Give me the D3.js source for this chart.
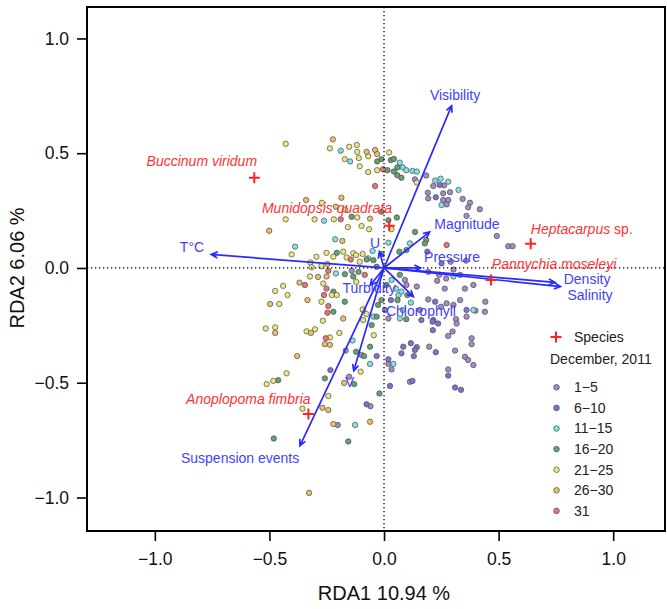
<!DOCTYPE html>
<html>
<head>
<meta charset="utf-8">
<script src="https://cdn.jsdelivr.net/npm/d3@7"></script>
<style>
body { margin: 0; background: #fff; }
text { font-family: "Liberation Sans", Arial, sans-serif; }
</style>
</head>
<body>
<svg id="chart" width="667" height="609"></svg>
<script>
// site scores by day group (RDA1, RDA2)
var days1_5 = [[0.135,0.386],[0.184,0.403],[0.215,0.357],[0.262,0.360],[0.191,0.328],[0.258,0.325],[0.288,0.330],
  [0.193,0.303],[0.258,0.296],[0.280,0.296],[0.273,0.277],[0.343,0.301],[0.375,0.284],[0.367,0.264],[0.418,0.256],
  [0.360,0.227],[0.492,0.139],[0.542,0.095],[0.561,0.095],[0.291,0.027],[0.358,0.032],[0.303,-0.007],[0.193,-0.017],
  [0.241,-0.030],[0.271,-0.046],[0.332,-0.030],[0.232,-0.056],[0.265,-0.090],[0.353,-0.090],[0.390,-0.074],
  [0.143,-0.081],[0.098,-0.074],[0.091,-0.052],[0.193,-0.137],[0.249,-0.169],[0.273,-0.154],[0.303,-0.161],
  [0.332,-0.140],[0.442,-0.147],[0.440,-0.191],[0.314,-0.223],[0.317,-0.242],[0.360,-0.212],[0.019,-0.220],
  [0.156,-0.183],[0.197,-0.343],[0.280,-0.296],[0.299,-0.277],[0.310,-0.360],[0.353,-0.387],[0.367,-0.401],
  [0.390,-0.423],[0.382,-0.306],[0.382,-0.332],[0.280,-0.442],[0.113,-0.496],[0.019,-0.418],[0.033,-0.442],
  [-0.167,-0.360],[-0.152,-0.474],[-0.098,-0.379],[-0.202,-0.684],[-0.059,-0.602],[-0.141,-0.012],[0.399,-0.186]]
var days6_10 = [[0.243,0.362],[0.226,0.308],[0.189,0.071],[0.251,0.020],[0.223,-0.147],[0.360,-0.183],[0.163,-0.227],
  [0.215,-0.227],[0.236,-0.242],[0.213,-0.271],[0.212,-0.234],[0.084,-0.343],[0.117,-0.328],[0.076,-0.372],
  [0.143,-0.345],[0.135,-0.357],[0.130,-0.384],[0.226,-0.367],[0.124,-0.492],[0.019,-0.398],[0.026,-0.514],
  [0.280,-0.469],[0.310,-0.521],[0.336,-0.531],[-0.032,-0.384],[0.004,-0.183],[0.030,-0.140],[-0.234,-0.445],
  [-0.076,-0.594],[-0.032,0.005]]
var days11_15 = [[-0.189,0.511],[-0.148,0.464],[0.069,0.459],[0.082,0.438],[0.097,0.426],[0.124,0.423],[0.143,0.420],
  [0.223,0.381],[0.247,0.389],[0.280,0.376],[0.325,0.340],[0.251,0.274],[-0.262,0.206],[-0.213,0.125],[-0.388,0.093],
  [0.019,0.110],[0.113,0.107],[-0.050,0.074],[-0.069,0.042],[-0.210,-0.024],[0.033,-0.052],[0.052,-0.090],
  [0.063,-0.118],[0.076,-0.103],[0.117,-0.151],[-0.091,-0.183],[0.069,-0.220],[0.082,-0.183],[0.303,-0.037],
  [0.390,-0.183],[-0.046,-0.212],[-0.137,-0.316],[-0.061,-0.418],[0.041,-0.418],[-0.126,-0.684]]
var days16_20 = [[-0.030,0.464],[-0.011,0.474],[0.030,0.470],[0.043,0.475],[0.058,0.438],[0.015,0.426],[0.043,0.420],
  [0.058,0.404],[0.076,0.393],[0.019,0.208],[0.056,0.220],[-0.011,0.245],[-0.141,0.223],[0.135,0.157],[0.184,0.122],
  [0.178,0.107],[0.067,0.071],[0.098,0.078],[-0.076,0.037],[-0.206,0.066],[-0.011,0.061],[-0.046,0.034],
  [-0.171,-0.027],[-0.111,-0.017],[-0.134,-0.037],[0.069,-0.030],[-0.221,-0.103],[-0.171,-0.147],[-0.221,-0.191],
  [-0.026,-0.161],[-0.032,-0.212],[-0.054,-0.249],[0.011,-0.074],[0.059,-0.140],[0.102,-0.118],[0.097,-0.223],
  [-0.011,-0.140],[-0.061,-0.343],[-0.087,-0.384],[-0.130,-0.506],[-0.020,-0.547],[-0.258,-0.481],[-0.462,-0.489],
  [-0.481,-0.743],[-0.156,-0.756],[-0.122,-0.365]]
var days21_25 = [[-0.429,0.541],[-0.236,0.521],[-0.152,0.528],[-0.119,0.536],[-0.117,0.506],[0.022,0.503],[-0.171,0.474],
  [-0.110,0.479],[-0.069,0.487],[-0.106,0.443],[-0.069,0.418],[-0.030,0.426],[0.143,0.372],[-0.271,0.284],[-0.169,0.254],
  [-0.429,0.212],[-0.303,0.212],[-0.219,0.212],[-0.117,0.220],[0.032,0.169],[-0.158,0.178],[-0.098,0.183],
  [-0.065,0.169],[-0.403,0.059],[-0.295,0.049],[-0.321,0.024],[-0.316,0.003],[-0.323,-0.037],[-0.251,0.066],
  [-0.221,0.049],[-0.178,0.071],[-0.163,0.046],[-0.134,0.064],[-0.093,0.061],[-0.122,0.056],[-0.106,0.027],
  [-0.273,0.008],[-0.265,-0.068],[-0.228,-0.118],[-0.206,-0.118],[-0.440,-0.078],[-0.475,-0.100],[-0.421,-0.118],
  [-0.457,-0.157],[-0.273,-0.147],[-0.267,-0.230],[-0.093,-0.181],[-0.076,-0.201],[-0.091,-0.227],[-0.121,-0.061],
  [-0.516,-0.264],[-0.475,-0.259],[-0.338,-0.276],[-0.301,-0.267],[-0.236,-0.303],[-0.195,-0.283],[-0.045,-0.293],
  [-0.102,-0.452],[-0.425,-0.459],[-0.483,-0.492],[-0.512,-0.506],[-0.243,-0.558],[-0.356,-0.613]]
var days26_30 = [[-0.223,0.560],[-0.076,0.506],[-0.039,0.514],[-0.030,0.496],[-0.186,0.306],[-0.340,0.296],[-0.210,0.267],
  [-0.061,0.215],[-0.501,0.162],[-0.182,0.118],[-0.369,-0.064],[-0.288,-0.039],[-0.251,-0.037],[-0.247,0.017],
  [-0.334,-0.140],[-0.497,-0.157],[-0.178,-0.220],[-0.475,-0.283],[-0.319,-0.283],[-0.258,-0.332],[-0.236,-0.335],
  [-0.379,-0.384],[-0.174,-0.501],[-0.269,-0.609],[-0.243,-0.619],[-0.221,-0.680],[-0.061,-0.670],[-0.327,-0.980]]
var days31 = [[-0.004,0.430],[-0.039,0.357],[-0.189,0.212],[0.273,0.100],[-0.243,-0.012],[-0.084,-0.030],[-0.345,-0.074],
  [-0.251,-0.090],[-0.262,-0.118],[-0.243,-0.166],[-0.247,-0.195],[-0.254,-0.306],[-0.145,0.037]]

var groupNames = ["1\u22125", "6\u221210", "11\u221215", "16\u221220", "21\u221225", "26\u221230", "31"]
var groupColors = ["#a48bc6", "#7e72d0", "#7fe3e6", "#66a173", "#ece77a", "#ebbf68", "#e87575"]
var groups = [days1_5, days6_10, days11_15, days16_20, days21_25, days26_30, days31]

// environmental vectors and their label anchors
var envNames = ["Visibility", "T\u00b0C", "Magnitude", "Pressure", "Density", "Salinity", "Chlorophyll", "U", "V", "Suspension events", "Turbidity"]
var envX = [0.295, -0.754, 0.199, 0.160, 0.746, 0.770, 0.128, -0.020, -0.132, -0.367, -0.060]
var envY = [0.707, 0.059, 0.157, 0.000, -0.063, -0.081, -0.125, 0.071, -0.448, -0.775, -0.075]
var envLabX = [0.310, -0.838, 0.362, 0.297, 0.886, 0.899, 0.161, -0.039, -0.150, -0.628, -0.065]
var envLabY = [0.754, 0.092, 0.190, 0.048, -0.047, -0.117, -0.186, 0.109, -0.499, -0.828, -0.087]

// species scores
var spNames = ["Buccinum viridum", "Munidopsis quadrata", "Heptacarpus", "Pannychia moseleyi", "Anoplopoma fimbria"]
var spX = [-0.566, 0.023, 0.640, 0.467, -0.330]
var spY = [0.393, 0.184, 0.105, -0.052, -0.636]
var spLabX = [-0.795, -0.249, 0.863, 0.742, -0.592]
var spLabY = [0.466, 0.263, 0.169, 0.019, -0.571]

var tickVals = [-1.0, -0.5, 0.0, 0.5, 1.0]

var svg = d3.select("#chart")
var mLeft = 87, mRight = 665, mTop = 7, mBottom = 531

var x = d3.scaleLinear().domain([-1.296, 1.226]).range([mLeft, mRight])
var y = d3.scaleLinear().domain([-1.146, 1.137]).range([mBottom, mTop])

var fmt = d3.format(".1f")

// axes
var xAxis = svg.append("g").attr("transform", "translate(0," + mBottom + ")")
  .call(d3.axisBottom(x).tickValues(tickVals).tickFormat(fmt).tickSize(10).tickPadding(12))
var yAxis = svg.append("g").attr("transform", "translate(" + mLeft + ",0)")
  .call(d3.axisLeft(y).tickValues(tickVals).tickFormat(fmt).tickSize(10).tickPadding(8))
;[xAxis, yAxis].forEach(function(a) {
  a.select(".domain").remove()
  a.selectAll("line").attr("stroke", "#000").attr("stroke-width", 1.6)
  a.selectAll("text").attr("font-size", 17.5).attr("fill", "#111")
    .attr("font-family", "Liberation Sans, Arial, sans-serif")
})

svg.append("rect").attr("x", mLeft).attr("y", mTop)
  .attr("width", mRight - mLeft).attr("height", mBottom - mTop)
  .attr("fill", "none").attr("stroke", "#000").attr("stroke-width", 2)

svg.append("text").attr("x", x(0)).attr("y", 600).attr("text-anchor", "middle")
  .attr("font-size", 20).attr("fill", "#111").text("RDA1 10.94 %")
svg.append("text").attr("transform", "translate(24," + y(0) + ") rotate(-90)")
  .attr("text-anchor", "middle").attr("font-size", 20).attr("fill", "#111").text("RDA2 6.06 %")

var plot = svg.append("g")

// points
groups.forEach(function(g, i) {
  plot.append("g").selectAll("circle").data(g).join("circle")
    .attr("cx", function(d) { return x(d[0]) })
    .attr("cy", function(d) { return y(d[1]) })
    .attr("r", 2.7)
    .attr("fill", groupColors[i])
    .attr("stroke", "#4a4a4a")
    .attr("stroke-width", 0.7)
})

// zero lines
plot.append("line").attr("x1", mLeft).attr("x2", mRight).attr("y1", y(0)).attr("y2", y(0))
  .attr("stroke", "#000").attr("stroke-width", 1.3).attr("stroke-dasharray", "1.3,2.7")
plot.append("line").attr("x1", x(0)).attr("x2", x(0)).attr("y1", mTop).attr("y2", mBottom)
  .attr("stroke", "#000").attr("stroke-width", 1.3).attr("stroke-dasharray", "1.3,2.7")

// env arrows
var blue = "#2a2aff"
envNames.forEach(function(name, i) {
  var x0 = x(0), y0 = y(0), x1 = x(envX[i]), y1 = y(envY[i])
  var ang = Math.atan2(y1 - y0, x1 - x0), hl = 7, ha = Math.PI / 7
  var p = "M" + x0 + "," + y0 + "L" + x1 + "," + y1 +
    "M" + (x1 - hl * Math.cos(ang - ha)) + "," + (y1 - hl * Math.sin(ang - ha)) +
    "L" + x1 + "," + y1 +
    "L" + (x1 - hl * Math.cos(ang + ha)) + "," + (y1 - hl * Math.sin(ang + ha))
  plot.append("path").attr("d", p).attr("fill", "none")
    .attr("stroke", blue).attr("stroke-width", 1.7)
})
envNames.forEach(function(name, i) {
  plot.append("text").attr("x", x(envLabX[i])).attr("y", y(envLabY[i]))
    .attr("dy", "0.35em").attr("text-anchor", "middle")
    .attr("font-size", 14).attr("fill", "#3f3fff").text(name)
})

// species
var red = "#ff2222"
function cross(g, cx, cy, s) {
  g.append("path").attr("d", "M" + (cx - s) + "," + cy + "H" + (cx + s) + "M" + cx + "," + (cy - s) + "V" + (cy + s))
    .attr("stroke", red).attr("stroke-width", 2).attr("fill", "none")
}
spNames.forEach(function(name, i) {
  cross(plot, x(spX[i]), y(spY[i]), 5.5)
  var t = plot.append("text").attr("x", x(spLabX[i])).attr("y", y(spLabY[i]))
    .attr("dy", "0.35em").attr("text-anchor", "middle")
    .attr("font-size", 14).attr("fill", "#ff3333")
  if (name === "Heptacarpus") {
    t.append("tspan").attr("font-style", "italic").text("Heptacarpus")
    t.append("tspan").text(" sp.")
  } else {
    t.attr("font-style", "italic").text(name)
  }
})

// legend
var lg = svg.append("g")
cross(lg, 556, 337, 5.5)
lg.append("text").attr("x", 574).attr("y", 337).attr("dy", "0.35em")
  .attr("font-size", 14).attr("fill", "#222").text("Species")
lg.append("text").attr("x", 550).attr("y", 359).attr("dy", "0.35em")
  .attr("font-size", 14).attr("fill", "#222").text("December, 2011")
groupNames.forEach(function(name, i) {
  var ly = 387.3 + i * 20.6
  lg.append("circle").attr("cx", 556.5).attr("cy", ly).attr("r", 2.8)
    .attr("fill", groupColors[i]).attr("stroke", "#4a4a4a").attr("stroke-width", 0.7)
  lg.append("text").attr("x", 574).attr("y", ly).attr("dy", "0.35em")
    .attr("font-size", 14).attr("fill", "#222").text(name)
})
</script>
</body>
</html>
